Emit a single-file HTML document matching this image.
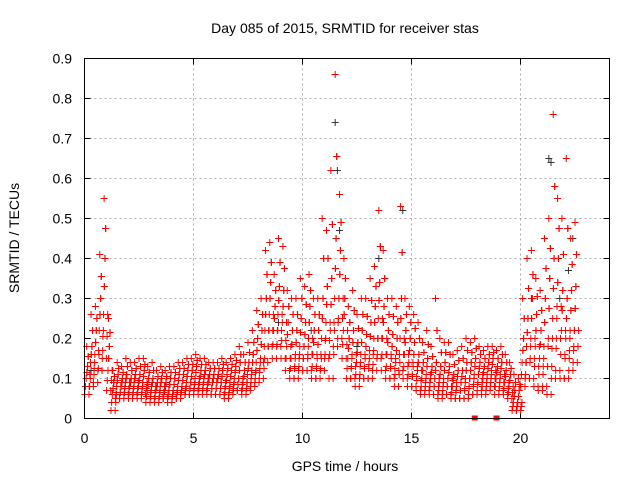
<!DOCTYPE html>
<html><head><meta charset="utf-8"><style>
body{margin:0;background:#fff;}
svg{display:block;font-family:"Liberation Sans",sans-serif;}
</style></head><body>
<svg id="c" width="640" height="480">
<text x="345" y="33" font-size="14" text-anchor="middle">Day 085 of 2015, SRMTID for receiver stas</text>
<text x="345" y="471" font-size="14" text-anchor="middle">GPS time / hours</text>
<text transform="translate(19,238) rotate(-90)" font-size="14" text-anchor="middle">SRMTID / TECUs</text>
<g id="grid"></g>
<g id="ticks"></g>
<g id="marks"></g>
<rect x="84.5" y="58.5" width="525" height="360" fill="none" stroke="#000"/>
</svg>
<script>
const xTicks=[0,5,10,15,20];
const yTicks=[0,0.1,0.2,0.3,0.4,0.5,0.6,0.7,0.8,0.9];
const binStep=0.2;
const low=[.06,.08,.09,.12,.15,.07,.02,.05,.05,.06, .05,.06,.05,.06,.04,.05,.04,.05,.05,.04, .05,.05,.06,.06,.06,.07,.06,.07,.06,.06, .06,.06,.05,.06,.07,.07,.06,.07,.08,.09, .10,.14,.18,.15,.18,.15,.12,.10,.10,.12, .12,.12,.10,.10,.12,.15,.10,.18,.20,.15, .10,.10,.08,.10,.10,.10,.12,.15,.12,.10, .10,.08,.12,.10,.08,.08,.07,.06,.07,.06, .06,.05,.06,.06,.05,.05,.05,.05,.06,.06, .07,.06,.07,.08,.06,.07,.06,.05,.02,.02, .08,.10,.10,.08,.07,.08,.06,.10,.12,.10, .10,.12,.14];
const mid1=[.10,.14,.16,.22,.26,.12,.06,.08,.08,.09, .08,.09,.08,.09,.07,.08,.07,.08,.07,.07, .07,.08,.08,.09,.09,.10,.09,.10,.09,.09, .09,.09,.08,.09,.10,.10,.09,.11,.12,.14, .15,.22,.26,.22,.26,.24,.18,.15,.16,.18, .18,.20,.16,.15,.20,.24,.22,.30,.30,.22, .15,.16,.14,.16,.15,.17,.20,.25,.20,.16, .15,.14,.20,.16,.14,.13,.12,.10,.11,.10, .10,.09,.10,.10,.08,.09,.09,.10,.10,.11, .11,.10,.11,.12,.10,.11,.09,.08,.04,.04, .14,.18,.20,.18,.15,.18,.20,.25,.28,.22, .20,.22,.22];
const mid2=[.13,.18,.22,.30,.40,.18,.09,.11,.10,.11, .10,.11,.11,.12,.10,.10,.09,.10,.09,.10, .10,.11,.11,.12,.12,.13,.12,.12,.11,.11, .11,.12,.11,.12,.13,.14,.12,.14,.16,.20, .22,.30,.34,.28,.33,.32,.24,.22,.22,.25, .24,.28,.22,.22,.30,.33,.35,.45,.42,.30, .20,.22,.19,.22,.21,.24,.28,.34,.28,.22, .21,.20,.30,.22,.20,.19,.16,.14,.15,.13, .14,.13,.14,.13,.11,.12,.12,.14,.14,.15, .14,.13,.14,.15,.13,.14,.12,.11,.07,.07, .20,.25,.30,.26,.22,.30,.35,.40,.40,.32, .30,.32,.33];
const high=[.18,.26,.28,.41,.55,.25,.12,.14,.13,.15, .14,.14,.15,.15,.13,.14,.12,.13,.12,.13, .13,.14,.14,.15,.15,.16,.15,.15,.14,.14, .14,.15,.14,.15,.16,.18,.16,.19,.22,.27, .30,.42,.44,.36,.45,.43,.32,.30,.30,.35, .33,.36,.30,.30,.50,.47,.62,.86,.56,.40, .28,.32,.26,.30,.30,.35,.38,.52,.42,.30, .30,.28,.53,.30,.28,.26,.24,.19,.22,.18, .30,.20,.19,.19,.16,.17,.18,.20,.19,.20, .18,.17,.18,.18,.17,.18,.16,.14,.11,.10, .30,.40,.42,.35,.32,.45,.50,.76,.55,.50, .65,.45,.49];
const blackT=[0.3,8.3,8.9,10.4,11.5,11.6,11.7,13.5,14.6,21.3,21.4,21.8,22.2,22.4,20.5,12.5];
const blackV=[0.12,0.26,0.24,0.22,0.74,0.62,0.47,0.40,0.52,0.65,0.64,0.30,0.37,0.45,0.30,0.18];
const zeroT=[17.9,18.9];
const X=t=>84.5+t*21.8, Y=v=>418.5-v*400;
const NS="http://www.w3.org/2000/svg";
function mk(tag,attrs,parent){const e=document.createElementNS(NS,tag);for(const k in attrs)e.setAttribute(k,attrs[k]);parent.appendChild(e);return e;}
const grid=document.getElementById('grid'),ticks=document.getElementById('ticks'),marks=document.getElementById('marks');
yTicks.forEach(v=>{
  const y=Y(v);
  if(v>0&&v<0.9){const g=mk('line',{x1:84.5,x2:609.5,y1:y,y2:y,stroke:'#aaa','stroke-dasharray':'2,3'},grid);
  
  }
  const t=mk('text',{x:72,y:y+5,'font-size':14,'text-anchor':'end'},ticks);t.textContent=String(v);
  
  
  mk('line',{x1:84.5,x2:90.5,y1:y,y2:y,stroke:'#000'},ticks);
  mk('line',{x1:603.5,x2:609.5,y1:y,y2:y,stroke:'#000'},ticks);
});
xTicks.forEach(v=>{
  const x=X(v);
  if(v>0){const g=mk('line',{x1:x,x2:x,y1:58.5,y2:418.5,stroke:'#aaa','stroke-dasharray':'2,3'},grid);
  
  }
  const t=mk('text',{x:x,y:443,'font-size':14,'text-anchor':'middle'},ticks);t.textContent=String(v);
  
  
  mk('line',{x1:x,x2:x,y1:418.5,y2:412.5,stroke:'#000'},ticks);
  mk('line',{x1:x,x2:x,y1:58.5,y2:64.5,stroke:'#000'},ticks);
});
function plus(t,v,col){
  const x=X(t),y=Y(v);
  const p=mk('path',{d:`M${x-3.5},${y}h7M${x},${y-3.5}v7`,stroke:col,'stroke-width':1,fill:'none'},marks);
  
  
}
blackT.forEach((t,i)=>plus(t,blackV[i],'#333'));
low.forEach((lo,i)=>{
  const t0=i*binStep;
  const m1=mid1[i],m2=mid2[i],hi=high[i];
  const levels=[lo,(lo+m1)/2,m1,(m1+m2)/2,m2,(m2+hi)/2];
  levels.forEach((v,k)=>{
    plus(t0+0.015+0.03*k,v,'#f00');
    plus(t0+0.115+0.03*((k+3)%6),v,'#f00');
  });
  plus(t0+0.1,hi,'#f00');
});
zeroT.forEach(t=>{const r=mk('rect',{x:X(t)-3,y:Y(0)-3,width:6,height:5,fill:'#f00'},marks);
  
  });
</script>
</body></html>
